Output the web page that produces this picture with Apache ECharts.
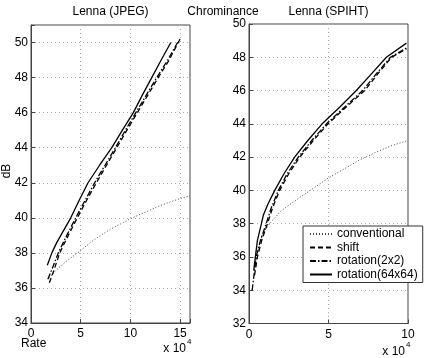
<!DOCTYPE html>
<html>
<head>
<meta charset="utf-8">
<script src="https://cdn.jsdelivr.net/npm/echarts@6/dist/echarts.min.js"></script>
<style>
  html, body { margin: 0; padding: 0; background: #fff; }
  #chart { width: 425px; height: 358px; }
</style>
</head>
<body>
<div id="chart"></div>
<script>
// legend names
const seriesNames = ['conventional', 'shift', 'rotation(2x2)', 'rotation(64x64)'];

// Lenna (JPEG): [rate x 1e4, dB]
const jpegConventional = [[1.8,36.55],[2.5,37.0],[3.5,37.5],[4.7,38.0],[6.0,38.6],[7.0,39.0],[8.0,39.35],[9.0,39.65],[10.0,39.95],[11.0,40.2],[12.0,40.45],[13.0,40.7],[14.0,40.9],[15.0,41.1],[16.0,41.25]];
const jpegShift = [[1.85,36.3],[2.3,37.0],[2.89,38.0],[3.75,39.0],[4.66,40.0],[5.6,41.0],[6.58,42.0],[7.6,43.0],[8.63,44.0],[9.65,45.0],[10.7,46.0],[11.75,47.0],[12.8,48.0],[13.9,49.0],[15.0,50.2]];
const jpegRot2 = [[1.7,36.5],[2.2,37.2],[2.75,38.0],[3.6,39.0],[4.5,40.0],[5.45,41.0],[6.4,42.0],[7.45,43.0],[8.5,44.0],[9.5,45.0],[10.55,46.0],[11.6,47.0],[12.65,48.0],[13.75,49.0],[14.85,50.1]];
const jpegRot64 = [[1.64,37.3],[2.1,38.0],[2.6,38.6],[3.2,39.2],[4.0,40.0],[4.85,41.0],[5.74,42.0],[6.9,43.0],[8.13,44.0],[9.2,45.0],[10.3,46.0],[11.2,47.0],[12.15,48.0],[13.1,49.0],[14.07,50.0]];

// Lenna (SPIHT)
const spihtConventional = [[0.3,35.2],[0.55,36.3],[0.8,37.2],[1.0,37.6],[1.3,38.0],[2.0,38.75],[3.0,39.45],[4.0,40.1],[5.0,40.75],[6.0,41.3],[7.0,41.85],[8.0,42.3],[9.0,42.7],[10.0,43.0]];
const spihtShift = [[0.35,34.9],[0.53,36.0],[0.8,37.0],[1.16,38.0],[1.5,39.0],[1.93,40.0],[2.5,41.0],[3.19,42.0],[4.05,43.0],[4.97,44.0],[6.1,45.0],[7.28,46.0],[8.1,47.0],[8.96,48.0],[9.9,48.5]];
const spihtRot2 = [[0.2,34.0],[0.45,36.0],[0.72,37.0],[1.08,38.0],[1.42,39.0],[1.85,40.0],[2.4,41.0],[3.1,42.0],[3.95,43.0],[4.88,44.0],[6.0,45.0],[7.15,46.0],[8.0,47.0],[8.9,48.0],[9.9,48.55]];
const spihtRot64 = [[0.3,35.2],[0.4,36.0],[0.53,37.0],[0.78,38.0],[0.9,38.5],[1.2,39.2],[1.62,40.0],[2.2,41.0],[2.87,42.0],[3.7,43.0],[4.6,44.0],[5.7,45.0],[6.75,46.0],[7.7,47.0],[8.64,48.0],[9.9,48.85]];

const FONT = 'Liberation Sans, Arial, sans-serif';

// line styles per legend entry
const styles = [
  { color: '#444', width: 1, type: [1, 2] },
  { color: '#000', width: 1.3, type: [5, 3] },
  { color: '#000', width: 1.3, type: [6, 2, 1.5, 2] },
  { color: '#000', width: 1.3, type: 'solid' }
];

function xAxisOf(grid, max, step) {
  return {
    type: 'value', gridIndex: grid, min: 0, max: max, interval: step,
    axisLine: { show: true, onZero: false, lineStyle: { color: '#444' } },
    axisTick: { inside: true, length: 4, lineStyle: { color: '#444' } },
    axisLabel: {
      color: '#000', fontSize: 12, fontFamily: FONT, margin: 5,
      formatter: v => (v % step === 0 ? String(v) : '')
    },
    splitLine: { show: true, lineStyle: { color: '#aaa', type: [1, 3] } }
  };
}

function yAxisOf(grid, min, max) {
  return {
    type: 'value', gridIndex: grid, min: min, max: max, interval: 2,
    axisLine: { show: true, onZero: false, lineStyle: { color: '#444' } },
    axisTick: { inside: true, length: 4, lineStyle: { color: '#444' } },
    axisLabel: {
      color: '#000', fontSize: 12, fontFamily: FONT, margin: 3,
      formatter: v => (v % 2 === 0 ? String(v) : '')
    },
    splitLine: { show: true, lineStyle: { color: '#aaa', type: [1, 3] } }
  };
}

function lineOf(i, data, grid) {
  return {
    name: seriesNames[i], type: 'line', data: data,
    xAxisIndex: grid, yAxisIndex: grid,
    symbol: 'none', showSymbol: false, animation: false,
    lineStyle: styles[i], itemStyle: { color: styles[i].color }
  };
}

const chart = echarts.init(document.getElementById('chart'));
chart.setOption({
  backgroundColor: '#fff',
  animation: false,
  grid: [
    { left: 31, top: 25, width: 159, height: 298, show: true, borderColor: '#444', borderWidth: 1 },
    { left: 249, top: 24, width: 159, height: 299.5, show: true, borderColor: '#444', borderWidth: 1 }
  ],
  xAxis: [xAxisOf(0, 16, 5), xAxisOf(1, 10, 5)],
  yAxis: [yAxisOf(0, 34, 51), yAxisOf(1, 32, 50)],
  legend: {
    data: seriesNames,
    orient: 'vertical', left: 303, top: 226,
    padding: [2, 5, 2, 6], itemGap: 1.5,
    itemWidth: 22, itemHeight: 10,
    itemStyle: { opacity: 0, borderWidth: 0 },
    backgroundColor: '#fff', borderColor: '#333', borderWidth: 1, borderRadius: 0,
    textStyle: { color: '#000', fontSize: 12, fontFamily: FONT }
  },
  graphic: [
    { type: 'text', style: { text: 'Lenna (JPEG)', x: 110.5, y: 12, textAlign: 'center', textVerticalAlign: 'middle', font: '12px ' + FONT, fill: '#000' } },
    { type: 'text', style: { text: 'Chrominance', x: 223, y: 12, textAlign: 'center', textVerticalAlign: 'middle', font: '12px ' + FONT, fill: '#000' } },
    { type: 'text', style: { text: 'Lenna (SPIHT)', x: 328.5, y: 12, textAlign: 'center', textVerticalAlign: 'middle', font: '12px ' + FONT, fill: '#000' } },
    { type: 'text', x: 7, y: 171, rotation: Math.PI / 2, style: { text: 'dB', x: 0, y: 0, textAlign: 'center', textVerticalAlign: 'middle', font: '12px ' + FONT, fill: '#000' } },
    { type: 'text', style: { text: 'Rate', x: 21, y: 344, textAlign: 'left', textVerticalAlign: 'middle', font: '12px ' + FONT, fill: '#000' } },
    { type: 'text', style: { text: 'x 10', x: 186, y: 349, textAlign: 'right', textVerticalAlign: 'middle', font: '12px ' + FONT, fill: '#000' } },
    { type: 'text', style: { text: '4', x: 187, y: 342, textAlign: 'left', textVerticalAlign: 'middle', font: '8px ' + FONT, fill: '#000' } },
    { type: 'text', style: { text: 'x 10', x: 405, y: 352, textAlign: 'right', textVerticalAlign: 'middle', font: '12px ' + FONT, fill: '#000' } },
    { type: 'text', style: { text: '4', x: 406, y: 345, textAlign: 'left', textVerticalAlign: 'middle', font: '8px ' + FONT, fill: '#000' } }
  ],
  series: [
    lineOf(0, jpegConventional, 0),
    lineOf(1, jpegShift, 0),
    lineOf(2, jpegRot2, 0),
    lineOf(3, jpegRot64, 0),
    lineOf(0, spihtConventional, 1),
    lineOf(1, spihtShift, 1),
    lineOf(2, spihtRot2, 1),
    lineOf(3, spihtRot64, 1)
  ]
});
</script>
</body>
</html>
